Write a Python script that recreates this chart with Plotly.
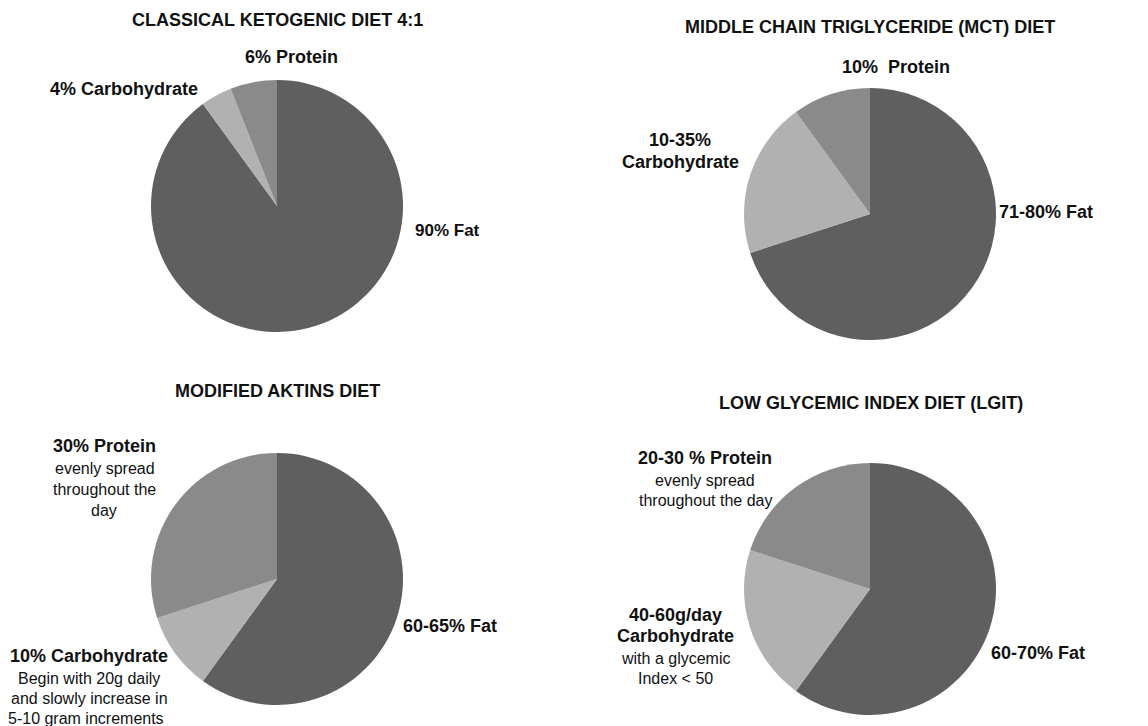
import plotly.graph_objects as go

# Macronutrient composition of four epilepsy diets (share of daily energy, %)
components = ["Fat", "Carbohydrate", "Protein"]
classical_keto = [90, 4, 6]
mct_diet = [70, 20, 10]
modified_atkins = [60, 10, 30]
low_glycemic = [60, 20, 20]

diet_titles = [
    "CLASSICAL KETOGENIC DIET 4:1",
    "MIDDLE CHAIN TRIGLYCERIDE (MCT) DIET",
    "MODIFIED AKTINS DIET",
    "LOW GLYCEMIC INDEX DIET (LGIT)",
]

W, H = 1148, 726
slice_colors = ["#5f5f5f", "#b1b1b1", "#8a8a8a"]
FONT = "Liberation Sans, Arial, sans-serif"
INK = "#111111"

# pie centres (px) and diameter
centres = [(277, 206), (870, 214), (277, 579), (870, 589)]
DIAM = 252


def domain_for(cx, cy, d=DIAM):
    r = d / 2
    return dict(
        x=[(cx - r) / W, (cx + r) / W],
        y=[1 - (cy + r) / H, 1 - (cy - r) / H],
    )


fig = go.Figure()
for vals, (cx, cy), name in zip(
    [classical_keto, mct_diet, modified_atkins, low_glycemic], centres, diet_titles
):
    fig.add_trace(
        go.Pie(
            labels=components,
            values=vals,
            name=name,
            sort=False,
            direction="clockwise",
            rotation=0,
            textinfo="none",
            hoverinfo="label+percent",
            marker=dict(colors=slice_colors, line=dict(width=0)),
            domain=domain_for(cx, cy),
            showlegend=False,
        )
    )

annotations = []


def txt(text, x, y, size=18, bold=True):
    annotations.append(
        dict(
            text=f"<b>{text}</b>" if bold else text,
            x=x / W,
            y=1 - y / H,
            xref="paper",
            yref="paper",
            xanchor="center",
            yanchor="middle",
            showarrow=False,
            font=dict(family=FONT, size=size, color=INK),
        )
    )


SUB = 16

# titles
title_pos = [(277, 20), (870, 27), (277, 391), (871, 403)]
for t, (x, y) in zip(diet_titles, title_pos):
    txt(t, x, y, size=18)

# classical ketogenic
txt("6% Protein", 291, 57)
txt("4% Carbohydrate", 124, 89)
txt("90% Fat", 447, 230, size=17)

# MCT
txt("10%  Protein", 896, 67)
txt("10-35%", 680, 140)
txt("Carbohydrate", 680, 162)
txt("71-80% Fat", 1046, 212)

# modified Atkins
txt("30% Protein", 104, 446)
txt("evenly spread", 105, 468, size=SUB, bold=False)
txt("throughout the", 104, 489, size=SUB, bold=False)
txt("day", 104, 510, size=SUB, bold=False)
txt("60-65% Fat", 450, 626)
txt("10% Carbohydrate", 89, 656)
txt("Begin with 20g daily", 89, 678, size=SUB, bold=False)
txt("and slowly increase in", 89, 698, size=SUB, bold=False)
txt("5-10 gram increments", 86, 718, size=SUB, bold=False)

# low glycemic index
txt("20-30 % Protein", 705, 458)
txt("evenly spread", 705, 480, size=SUB, bold=False)
txt("throughout the day", 705, 500, size=SUB, bold=False)
txt("40-60g/day", 675, 615)
txt("Carbohydrate", 675, 636)
txt("with a glycemic", 675, 658, size=SUB, bold=False)
txt("Index &lt; 50", 675, 678, size=SUB, bold=False)
txt("60-70% Fat", 1038, 653)

fig.update_layout(
    width=W,
    height=H,
    margin=dict(l=0, r=0, t=0, b=0),
    paper_bgcolor="white",
    plot_bgcolor="white",
    annotations=annotations,
    font=dict(family=FONT, color=INK),
)

fig.write_html("out.html")
